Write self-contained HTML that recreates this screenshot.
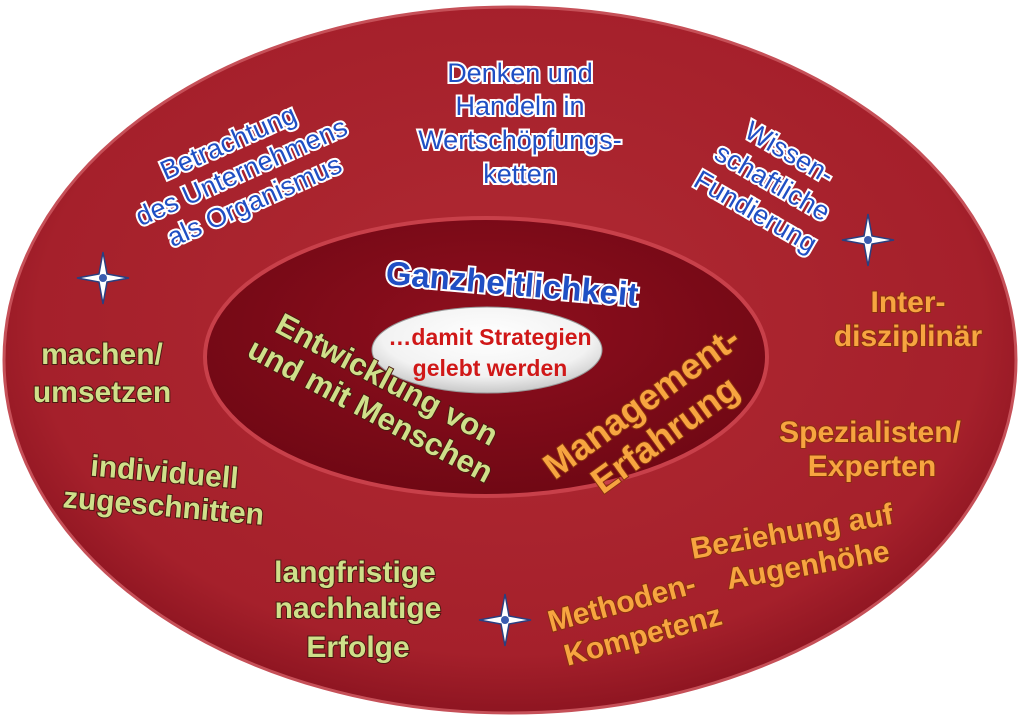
<!DOCTYPE html>
<html><head><meta charset="utf-8"><style>
html,body{margin:0;padding:0;background:#fff;width:1024px;height:723px;overflow:hidden}
svg{display:block}
text{font-family:"Liberation Sans","DejaVu Sans",sans-serif;text-anchor:middle;paint-order:stroke fill}
.b{fill:#1f4fc4;stroke:#fff;stroke-width:4px;font-size:27px}
.g{fill:#cfe08a;stroke:#4a1a10;stroke-width:2px;font-weight:bold;font-size:30px}
.o{fill:#f7a540;stroke:#8a3010;stroke-width:2px;font-weight:bold;font-size:30px}
</style></head><body>
<svg width="1024" height="723" viewBox="0 0 1024 723">
<defs>
<radialGradient id="og" cx="50%" cy="45%" r="55%">
<stop offset="0" stop-color="#b02a33"/><stop offset="0.85" stop-color="#a5202b"/><stop offset="1" stop-color="#8e1521"/>
</radialGradient>
<radialGradient id="ig" cx="50%" cy="40%" r="60%">
<stop offset="0" stop-color="#8f0f1e"/><stop offset="1" stop-color="#700814"/>
</radialGradient>
<radialGradient id="wg" cx="50%" cy="35%" r="65%">
<stop offset="0" stop-color="#ffffff"/><stop offset="0.7" stop-color="#f2f2f2"/><stop offset="1" stop-color="#c8c8c8"/>
</radialGradient>
<g id="star"><path d="M0,-26 L4,-4 L26,0 L4,4 L0,26 L-4,4 L-26,0 L-4,-4 Z" fill="#fff" stroke="#2a3f80" stroke-width="1.5"/><circle r="4" fill="#3a5cb0"/></g>
</defs>
<ellipse cx="510" cy="360" rx="506" ry="353" fill="url(#og)" stroke="#c65058" stroke-width="3"/>
<ellipse cx="486" cy="357" rx="281" ry="139" fill="url(#ig)" stroke="#c8404a" stroke-width="4"/>
<ellipse cx="487" cy="350" rx="115" ry="43" fill="url(#wg)" stroke="#999" stroke-width="1"/>

<g transform="translate(245,180) rotate(-24)">
<text class="b" y="-32">Betrachtung</text><text class="b" y="0">des Unternehmens</text><text class="b" y="32">als Organismus</text></g>
<text class="b" x="520" y="82">Denken und</text>
<text class="b" x="520" y="115">Handeln in</text>
<text class="b" x="520" y="149">Wertschöpfungs-</text>
<text class="b" x="520" y="183">ketten</text>
<g transform="translate(768,190) rotate(30)">
<text class="b" y="-34">Wissen-</text><text class="b" y="0">schaftliche</text><text class="b" y="34">Fundierung</text></g>
<text class="b" x="512" y="295" transform="rotate(5 512 285)" style="font-size:33px;font-weight:bold">Ganzheitlichkeit</text>

<g transform="translate(375,402) rotate(28)">
<text class="g" y="-15" style="font-size:31px">Entwicklung von</text><text class="g" y="20" style="font-size:31px">und mit Menschen</text></g>
<g transform="translate(658,425) rotate(-36)">
<text class="o" y="-16" style="font-size:36px">Management-</text><text class="o" y="24" style="font-size:36px">Erfahrung</text></g>

<text x="490" y="345" fill="#d01818" font-weight="bold" font-size="23">…damit Strategien</text>
<text x="490" y="376" fill="#d01818" font-weight="bold" font-size="23">gelebt werden</text>

<text class="g" x="102" y="364">machen/</text>
<text class="g" x="102" y="402">umsetzen</text>
<g transform="rotate(5 163 490)">
<text class="g" x="163" y="482">individuell</text>
<text class="g" x="165" y="516">zugeschnitten</text></g>
<text class="g" x="355" y="582">langfristige</text>
<text class="g" x="358" y="618">nachhaltige</text>
<text class="g" x="358" y="657">Erfolge</text>

<text class="o" x="908" y="312">Inter-</text>
<text class="o" x="908" y="346">disziplinär</text>
<text class="o" x="870" y="442">Spezialisten/</text>
<text class="o" x="872" y="476">Experten</text>
<g transform="rotate(-10 790 550)">
<text class="o" x="795" y="542">Beziehung auf</text>
<text class="o" x="805" y="578">Augenhöhe</text></g>
<g transform="rotate(-15 635 625)">
<text class="o" x="628" y="610">Methoden-</text>
<text class="o" x="640" y="647">Kompetenz</text></g>

<use href="#star" x="103" y="278"/>
<use href="#star" x="868" y="240"/>
<use href="#star" x="505" y="620"/>
</svg>
</body></html>
